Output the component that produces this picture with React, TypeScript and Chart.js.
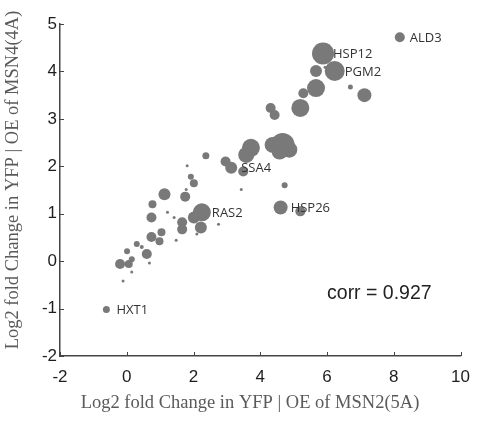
import React, { useEffect, useRef } from "react";
import { Chart, registerables } from "chart.js";

Chart.register(...registerables);

const xValues = [8.18, 5.88, 6.23, 5.67, 5.94, 6.70, 7.12, 5.67, 5.29, 5.20, 4.31, 4.43, 4.67, 4.37, 4.87, 4.58, 3.72, 3.58, 2.96, 3.13, 3.49, 4.73, 2.37, 1.81, 1.92, 2.01, 1.13, 1.78, 1.75, 0.77, 1.22, 1.42, 0.74, 2.25, 2.01, 1.66, 1.66, 2.22, 2.75, 2.10, 1.48, 1.04, 0.98, 0.74, 0.30, 0.45, 0.01, 0.60, 0.15, -0.20, 0.06, 0.68, 0.15, -0.11, -0.61, 3.43, 4.61, 5.20];
const yValues = [4.72, 4.38, 4.01, 4.01, 4.09, 3.67, 3.50, 3.65, 3.54, 3.23, 3.23, 3.08, 2.45, 2.45, 2.35, 2.31, 2.39, 2.24, 2.10, 1.97, 1.89, 1.60, 2.22, 2.01, 1.78, 1.64, 1.41, 1.51, 1.36, 1.20, 1.03, 0.92, 0.92, 1.03, 0.92, 0.82, 0.67, 0.71, 0.78, 0.57, 0.44, 0.61, 0.42, 0.51, 0.36, 0.30, 0.21, 0.15, 0.04, -0.06, -0.06, -0.04, -0.23, -0.42, -1.02, 1.51, 1.13, 1.05];
const sizes = [5, 11, 10, 6, 1.5, 2.5, 7, 9, 5, 9, 5, 5, 12, 8, 8, 8, 9, 8, 5, 6, 5, 3, 3.5, 1.5, 3, 4, 6, 1.5, 5, 4, 1.5, 1.5, 5, 9, 6, 5, 5, 6, 1.5, 1.5, 1.5, 4, 4, 5, 3, 2, 3, 5, 3, 5, 4, 1.5, 1.5, 1.5, 3.5, 1.5, 7, 5];

const geneNames = ["ALD3", "HSP12", "PGM2", "SSA4", "RAS2", "HSP26", "HXT1"];
const genePointIndex = [0, 1, 2, 19, 33, 56, 54];

const xTickValues = [-2, 0, 2, 4, 6, 8, 10];
const yTickValues = [-2, -1, 0, 1, 2, 3, 4, 5];

const xTitle = "Log2 fold Change in YFP | OE of MSN2(5A)";
const yTitle = "Log2 fold Change in YFP | OE of MSN4(4A)";
const corrText = "corr = 0.927";

const overlayPlugin = {
  id: "overlay",
  afterDatasetsDraw(chart: any) {
    const ctx = chart.ctx;
    const xs = chart.scales.x;
    const ys = chart.scales.y;
    const area = chart.chartArea;
    ctx.save();
    // inward ticks
    ctx.strokeStyle = "#444";
    ctx.lineWidth = 1;
    xTickValues.forEach((v) => {
      const px = Math.round(xs.getPixelForValue(v)) + 0.5;
      ctx.beginPath();
      ctx.moveTo(px, area.bottom);
      ctx.lineTo(px, area.bottom - 4);
      ctx.stroke();
    });
    yTickValues.forEach((v) => {
      const py = Math.round(ys.getPixelForValue(v)) + 0.5;
      ctx.beginPath();
      ctx.moveTo(area.left, py);
      ctx.lineTo(area.left + 4, py);
      ctx.stroke();
    });
    // gene labels
    const meta = chart.getDatasetMeta(0);
    ctx.fillStyle = "#333";
    ctx.font = '13px "Open Sans"';
    ctx.textBaseline = "middle";
    ctx.textAlign = "left";
    geneNames.forEach((name, i) => {
      const el = meta.data[genePointIndex[i]];
      if (el) ctx.fillText(name, el.x + 10, el.y + 1);
    });
    // corr text
    ctx.fillStyle = "#222";
    ctx.font = '19.5px "Liberation Sans", Arial, sans-serif';
    ctx.textBaseline = "alphabetic";
    ctx.fillText(corrText, xs.getPixelForValue(6), ys.getPixelForValue(-0.8));
    // axis titles
    ctx.fillStyle = "#5a5a5a";
    ctx.font = '18.5px "Liberation Serif", "Times New Roman", serif';
    ctx.textAlign = "center";
    ctx.textBaseline = "middle";
    ctx.fillText(xTitle, 250, 403);
    ctx.translate(13, 180);
    ctx.rotate(-Math.PI / 2);
    ctx.fillText(yTitle, 0, 0);
    ctx.restore();
  },
};

export default function App() {
  const ref = useRef<HTMLCanvasElement | null>(null);
  useEffect(() => {
    if (!ref.current) return;
    const points = xValues.map((x, i) => ({ x, y: yValues[i], r: sizes[i] }));
    const chart = new Chart(ref.current, {
      type: "bubble",
      data: {
        datasets: [
          {
            data: points,
            backgroundColor: "#797979",
            borderWidth: 0,
            hoverRadius: 0,
          },
        ],
      },
      options: {
        animation: false,
        responsive: false,
        events: [],
        layout: { padding: { top: 24, right: 15, left: 0, bottom: 0 } },
        plugins: { legend: { display: false }, tooltip: { enabled: false } },
        scales: {
          x: {
            type: "linear",
            min: -2,
            max: 10,
            afterBuildTicks: (s: any) => {
              s.ticks = xTickValues.map((v) => ({ value: v }));
            },
            afterFit: (s: any) => {
              s.height = 66;
            },
            grid: { display: false, drawTicks: false },
            border: { display: true, color: "#444", width: 1.5 },
            ticks: {
              color: "#1e1e1e",
              font: { family: '"Liberation Sans", Arial, sans-serif', size: 17 },
              padding: 11,
              maxRotation: 0,
              autoSkip: false,
            },
          },
          y: {
            type: "linear",
            min: -2,
            max: 5,
            afterBuildTicks: (s: any) => {
              s.ticks = yTickValues.map((v) => ({ value: v }));
            },
            afterFit: (s: any) => {
              s.width = 60;
            },
            grid: { display: false, drawTicks: false },
            border: { display: true, color: "#444", width: 1.5 },
            ticks: {
              color: "#1e1e1e",
              font: { family: '"Liberation Sans", Arial, sans-serif', size: 17 },
              padding: 3,
              autoSkip: false,
            },
          },
        },
      },
      plugins: [overlayPlugin],
    });
    return () => chart.destroy();
  }, []);
  return (
    <div style={{ position: "absolute", left: 0, top: 0, width: 481, height: 422, background: "#fff" }}>
      <canvas ref={ref} width={481} height={422} />
    </div>
  );
}
